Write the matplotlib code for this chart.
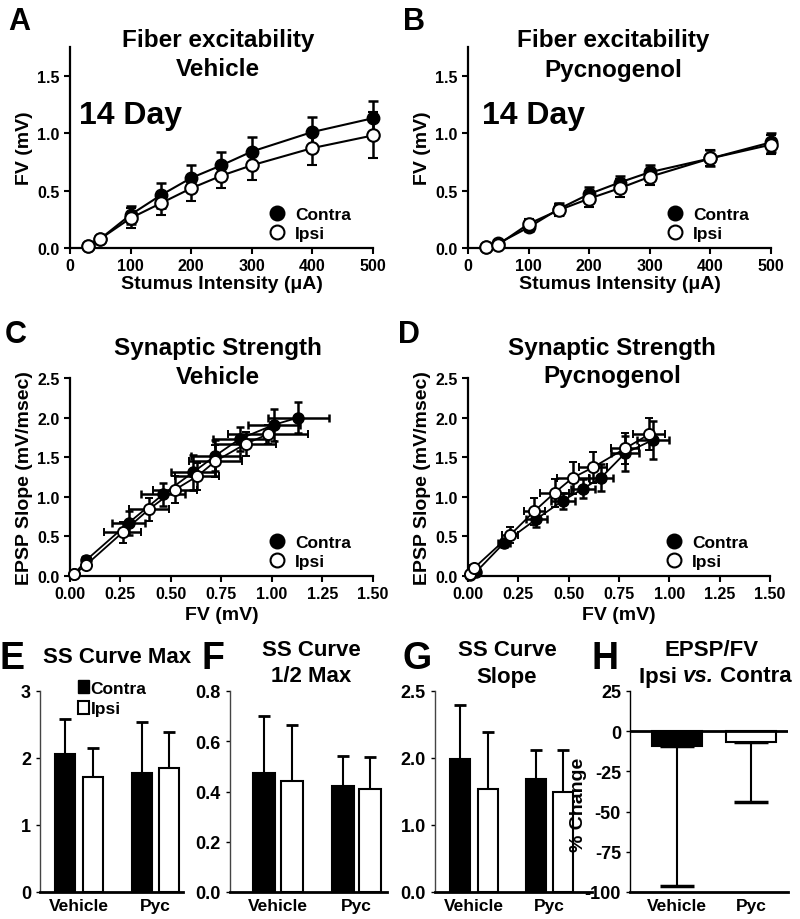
import numpy as np
import matplotlib
matplotlib.use("Agg")
import matplotlib.pyplot as plt
from matplotlib.lines import Line2D
from matplotlib.patches import Patch

plt.rcParams['font.family'] = ['Liberation Sans', 'DejaVu Sans']
plt.rcParams['font.weight'] = 'bold'
plt.rcParams['axes.labelweight'] = 'bold'
plt.rcParams['axes.unicode_minus'] = False

# stimulus intensities (uA)
stim = [30, 50, 100, 150, 200, 250, 300, 400, 500]

# A - fiber excitability, vehicle
fvA_contra = [0.02, 0.08, 0.29, 0.46, 0.61, 0.72, 0.84, 1.01, 1.13]
fvA_contra_err = [0.01, 0.02, 0.08, 0.11, 0.11, 0.12, 0.13, 0.13, 0.15]
fvA_ipsi = [0.02, 0.08, 0.26, 0.39, 0.52, 0.63, 0.72, 0.87, 0.98]
fvA_ipsi_err = [0.01, 0.02, 0.09, 0.10, 0.11, 0.11, 0.13, 0.15, 0.20]

# B - fiber excitability, pycnogenol
fvB_contra = [0.01, 0.04, 0.18, 0.34, 0.47, 0.57, 0.66, 0.78, 0.92]
fvB_contra_err = [0.01, 0.02, 0.03, 0.05, 0.06, 0.06, 0.06, 0.07, 0.08]
fvB_ipsi = [0.01, 0.03, 0.21, 0.33, 0.43, 0.52, 0.62, 0.78, 0.90]
fvB_ipsi_err = [0.01, 0.02, 0.04, 0.05, 0.07, 0.08, 0.07, 0.07, 0.08]

# C - synaptic strength, vehicle (EPSP slope vs FV)
epC_contra = [0.02, 0.20, 0.67, 1.03, 1.31, 1.52, 1.73, 1.91, 2.00]
epC_contra_err = [0.02, 0.05, 0.15, 0.14, 0.22, 0.20, 0.15, 0.20, 0.20]
epC_ipsi = [0.02, 0.14, 0.55, 0.84, 1.09, 1.26, 1.45, 1.67, 1.79]
epC_ipsi_err = [0.02, 0.05, 0.13, 0.15, 0.17, 0.17, 0.20, 0.15, 0.12]

# D - synaptic strength, pycnogenol
epD_contra = [0.01, 0.05, 0.42, 0.72, 0.95, 1.10, 1.24, 1.55, 1.72]
epD_contra_err = [0.02, 0.03, 0.05, 0.10, 0.10, 0.12, 0.17, 0.22, 0.24]
epD_ipsi = [0.02, 0.10, 0.52, 0.82, 1.05, 1.24, 1.37, 1.61, 1.79]
epD_ipsi_err = [0.02, 0.03, 0.10, 0.17, 0.18, 0.20, 0.20, 0.20, 0.20]

groups = ['Vehicle', 'Pyc']

# E - SS curve max
E_contra = [2.06, 1.78]
E_contra_err = [0.52, 0.76]
E_ipsi = [1.71, 1.85]
E_ipsi_err = [0.44, 0.54]

# F - SS curve 1/2 max
F_contra = [0.474, 0.423]
F_contra_err = [0.226, 0.117]
F_ipsi = [0.44, 0.41]
F_ipsi_err = [0.225, 0.127]

# G - SS curve slope (axis units, ticks labelled as in the figure)
G_contra = [1.98, 1.69]
G_contra_err = [0.81, 0.43]
G_ipsi = [1.53, 1.50]
G_ipsi_err = [0.86, 0.62]
G_ticks = [0, 1, 2, 3]
G_ticklabels = ['0.0', '1.0', '2.0', '2.5']

# H - EPSP/FV percent change
H_change = [-9.5, -7.0]
H_err = [87.0, 37.0]

fig = plt.figure(figsize=(8, 9.2), dpi=100)
W, H = 800.0, 920.0


def px_axes(l, t, r, b):
    return fig.add_axes([l / W, 1 - b / H, (r - l) / W, (b - t) / H])


def style(ax, lw=1.6, size=11.5):
    for s in ['top', 'right']:
        ax.spines[s].set_visible(False)
    for s in ['left', 'bottom']:
        ax.spines[s].set_linewidth(lw)
    ax.tick_params(direction='out', length=4, width=1.5, labelsize=size)
    for lab in ax.get_xticklabels() + ax.get_yticklabels():
        lab.set_fontweight('bold')


def ftext(x, y, s, size, **kw):
    return fig.text(x / W, 1 - y / H, s, fontsize=size, fontweight='bold',
                    ha=kw.pop('ha', 'center'), va=kw.pop('va', 'center'), **kw)


def legend_pts(ax, anchor):
    h = [Line2D([], [], ls='none', marker='o', mfc='k', mec='k', ms=10, mew=1.5),
         Line2D([], [], ls='none', marker='o', mfc='w', mec='k', ms=10, mew=1.5)]
    ax.legend(h, ['Contra', 'Ipsi'], loc='lower right', bbox_to_anchor=anchor,
              frameon=False, handletextpad=0.05, labelspacing=0.2,
              prop={'size': 12.5, 'weight': 'bold'}, borderaxespad=0)


def fv_panel(ax, yc, ec, yi, ei):
    ax.errorbar(stim, yc, yerr=ec, fmt='o-', color='k', mfc='k', mec='k', ms=9,
                lw=1.5, elinewidth=1.8, capsize=3.5, capthick=1.8, clip_on=False, zorder=3)
    ax.errorbar(stim, yi, yerr=ei, fmt='o-', color='k', mfc='w', mec='k', ms=9,
                lw=1.5, mew=1.5, elinewidth=1.8, capsize=3.5, capthick=1.8, clip_on=False, zorder=4)
    ax.set_xlim(0, 500)
    ax.set_ylim(0, 1.75)
    ax.set_xticks([0, 100, 200, 300, 400, 500])
    ax.set_yticks([0, 0.5, 1.0, 1.5])
    ax.set_yticklabels(['0.0', '0.5', '1.0', '1.5'])
    ax.set_ylabel('FV (mV)', fontsize=14, labelpad=3)
    ax.set_xlabel('Stumus Intensity (\u03bcA)', fontsize=14, labelpad=1)
    style(ax)
    legend_pts(ax, (0.95, 0.0))


def ss_panel(ax, xc, exc, yc, eyc, xi, exi, yi, eyi):
    ax.errorbar(xc, yc, xerr=exc, yerr=eyc, fmt='o-', color='k', mfc='k', mec='k', ms=8,
                lw=1.3, elinewidth=1.8, capsize=3, capthick=1.8, clip_on=False, zorder=3)
    ax.errorbar(xi, yi, xerr=exi, yerr=eyi, fmt='o-', color='k', mfc='w', mec='k', ms=8,
                lw=1.3, mew=1.4, elinewidth=1.8, capsize=3, capthick=1.8, clip_on=False, zorder=4)
    ax.set_xlim(0, 1.5)
    ax.set_ylim(0, 2.5)
    ax.set_xticks([0, 0.25, 0.5, 0.75, 1.0, 1.25, 1.5])
    ax.set_xticklabels(['0.00', '0.25', '0.50', '0.75', '1.00', '1.25', '1.50'])
    ax.set_yticks([0, 0.5, 1.0, 1.5, 2.0, 2.5])
    ax.set_yticklabels(['0.0', '0.5', '1.0', '1.5', '2.0', '2.5'])
    ax.set_ylabel('EPSP Slope (mV/msec)', fontsize=14, labelpad=3)
    ax.set_xlabel('FV (mV)', fontsize=14, labelpad=3)
    style(ax)
    legend_pts(ax, (0.95, 0.0))


def bar_panel(ax, pos, xmax, c, ec, i, ei):
    pc = [pos[0], pos[2]]
    pi = [pos[1], pos[3]]
    ax.errorbar(pc, c, yerr=[[0, 0], ec], fmt='none', ecolor='k', elinewidth=1.5,
                capsize=4, capthick=2, zorder=1)
    ax.errorbar(pi, i, yerr=[[0, 0], ei], fmt='none', ecolor='k', elinewidth=1.5,
                capsize=4, capthick=2, zorder=1)
    ax.bar(pc, c, width=1.0, color='k', edgecolor='k', lw=1.5, zorder=2)
    ax.bar(pi, i, width=1.0, color='w', edgecolor='k', lw=1.5, zorder=2)
    ax.set_xlim(0, xmax)
    ax.set_xticks([(pos[0] + pos[1]) / 2, (pos[2] + pos[3]) / 2])
    ax.set_xticklabels(groups)
    style(ax)
    ax.spines['left'].set_linewidth(1.0)
    ax.spines['left'].set_color('#444444')
    ax.spines['bottom'].set_linewidth(2.0)
    ax.tick_params(axis='x', length=0, labelsize=12.5, pad=4)
    ax.tick_params(axis='y', labelsize=13, width=1.0, length=3)


# ---- A
axA = px_axes(70, 48, 373, 249)
fv_panel(axA, fvA_contra, fvA_contra_err, fvA_ipsi, fvA_ipsi_err)
ftext(8, 22, 'A', 22, ha='left')
ftext(218, 40, 'Fiber excitability', 17.5)
ftext(218, 70, 'Vehicle', 17.5)
ftext(79, 116, '14 Day', 23, ha='left')

# ---- B
axB = px_axes(468, 48, 771, 249)
fv_panel(axB, fvB_contra, fvB_contra_err, fvB_ipsi, fvB_ipsi_err)
ftext(403, 22, 'B', 22, ha='left')
ftext(613, 40, 'Fiber excitability', 17.5)
ftext(613, 70, 'Pycnogenol', 17.5)
ftext(482, 116, '14 Day', 23, ha='left')

# ---- C
axC = px_axes(70, 379, 373, 577)
ss_panel(axC, fvA_contra, fvA_contra_err, epC_contra, epC_contra_err,
         fvA_ipsi, fvA_ipsi_err, epC_ipsi, epC_ipsi_err)
ftext(5, 335, 'C', 22, ha='left')
ftext(218, 348, 'Synaptic Strength', 17.5)
ftext(218, 377, 'Vehicle', 17.5)

# ---- D
axD = px_axes(468, 379, 770, 577)
ss_panel(axD, fvB_contra, fvB_contra_err, epD_contra, epD_contra_err,
         fvB_ipsi, fvB_ipsi_err, epD_ipsi, epD_ipsi_err)
ftext(398, 335, 'D', 22, ha='left')
ftext(612, 348, 'Synaptic Strength', 17.5)
ftext(612, 377, 'Pycnogenol', 17.5)

# ---- E
axE = px_axes(40, 692, 183, 893)
bar_panel(axE, [1.25, 2.65, 5.08, 6.45], 7.15, E_contra, E_contra_err, E_ipsi, E_ipsi_err)
axE.set_ylim(0, 3)
axE.set_yticks([0, 1, 2, 3])
axE.legend([Patch(fc='k', ec='k'), Patch(fc='w', ec='k', lw=1.5)], ['Contra', 'Ipsi'],
           loc='upper left', bbox_to_anchor=(0.22, 1.09), frameon=False,
           handlelength=0.6, handleheight=0.8, handletextpad=0.1, labelspacing=0.3,
           prop={'size': 12.5, 'weight': 'bold'}, borderaxespad=0)
ftext(0, 659, 'E', 27, ha='left')
ftext(117, 658, 'SS Curve Max', 16)

# ---- F
axF = px_axes(230, 692, 387, 893)
bar_panel(axF, [1.55, 2.84, 5.14, 6.36], 7.14, F_contra, F_contra_err, F_ipsi, F_ipsi_err)
axF.set_ylim(0, 0.8)
axF.set_yticks([0, 0.2, 0.4, 0.6, 0.8])
axF.set_yticklabels(['0.0', '0.2', '0.4', '0.6', '0.8'])
ftext(202, 659, 'F', 27, ha='left')
ftext(311, 650, 'SS Curve', 16)
ftext(311, 677, '1/2 Max', 16)

# ---- G
axG = px_axes(435, 692, 592, 893)
bar_panel(axG, [1.25, 2.65, 5.03, 6.4], 7.85, G_contra, G_contra_err, G_ipsi, G_ipsi_err)
axG.set_ylim(0, 3)
axG.set_yticks(G_ticks)
axG.set_yticklabels(G_ticklabels)
ftext(403, 659, 'G', 27, ha='left')
ftext(507, 650, 'SS Curve', 16)
ftext(507, 677, 'Slope', 16)

# ---- H
axH = px_axes(630, 692, 788, 893)
hpos = [0.94, 2.42]
axH.errorbar(hpos, H_change, yerr=[H_err, [0, 0]], fmt='none', ecolor='k', elinewidth=1.5,
             capsize=12, capthick=2.5, zorder=1)
axH.bar(hpos, H_change, width=1.0, color=['k', 'w'], edgecolor='k', lw=1.5, zorder=2)
axH.axhline(0, color='k', lw=2, zorder=3)
axH.set_xlim(0, 3.16)
axH.set_ylim(-100, 25)
axH.set_yticks([-100, -75, -50, -25, 0, 25])
axH.set_xticks(hpos)
axH.set_xticklabels(groups)
style(axH)
axH.spines['left'].set_linewidth(1.0)
axH.spines['bottom'].set_linewidth(2.0)
axH.tick_params(axis='x', length=0, labelsize=12.5, pad=4)
axH.tick_params(axis='y', labelsize=13, width=1.0, length=3)
axH.set_ylabel('% Change', fontsize=14)
axH.yaxis.set_label_coords(-0.27, 0.44)
ftext(592, 659, 'H', 27, ha='left')
ftext(712, 650, 'EPSP/FV', 16)

# "Ipsi vs. Contra" with italic "vs." - lay out the three pieces side by side
renderer = fig.canvas.get_renderer()
pieces = [('Ipsi ', 'normal'), ('vs.', 'italic'), (' Contra', 'normal')]
arts = [fig.text(0, 1 - 677 / H, s, fontsize=16, fontweight='bold', style=st,
                 ha='left', va='center') for s, st in pieces]
widths = [a.get_window_extent(renderer).width for a in arts]
x0 = 715 - sum(widths) / 2
for a, w in zip(arts, widths):
    a.set_x(x0 / W)
    x0 += w

fig.savefig('out.png', dpi=100)
